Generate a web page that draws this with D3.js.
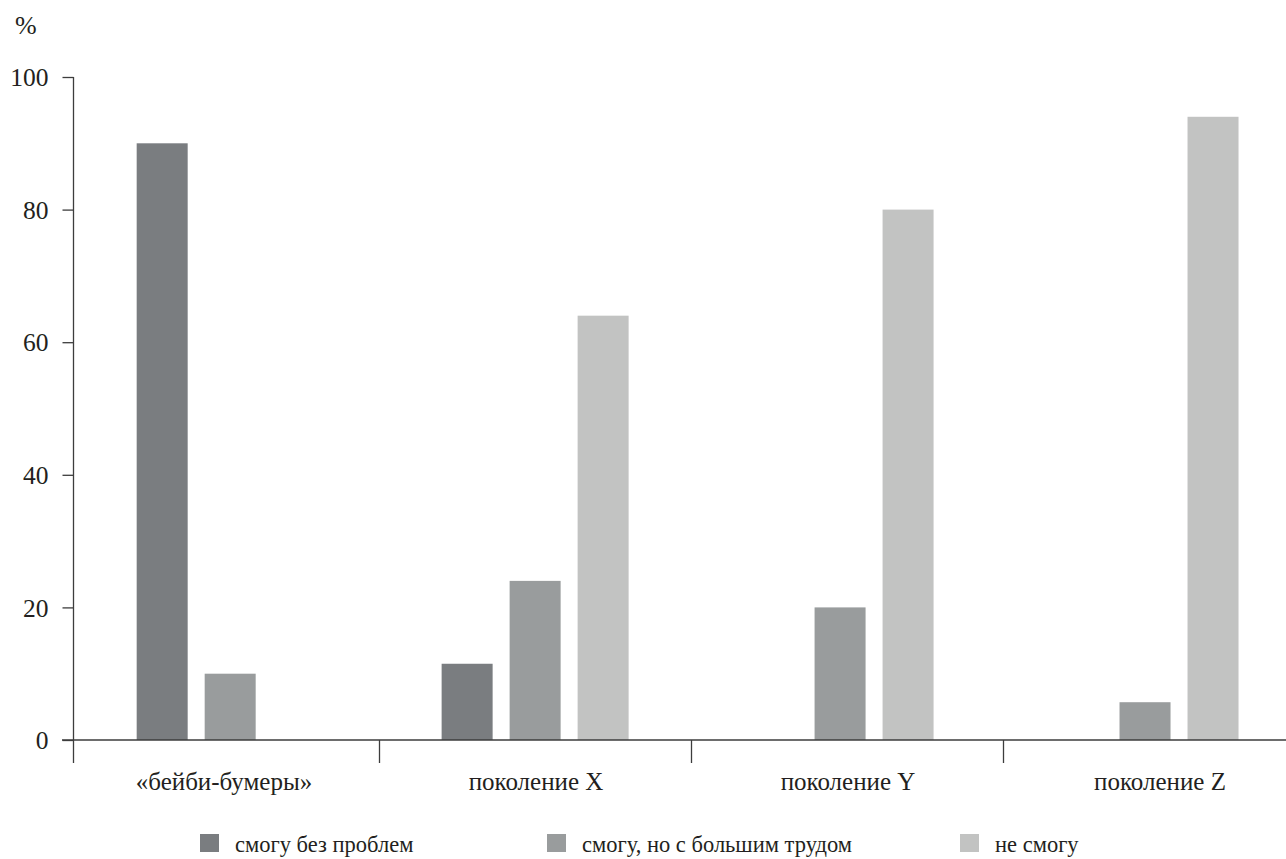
<!DOCTYPE html>
<html><head><meta charset="utf-8">
<script src="https://cdn.jsdelivr.net/npm/d3@7"></script>
<style>
html,body{margin:0;padding:0;background:#fff;}
</style></head>
<body><svg id="chart" width="1286" height="859"></svg>
<script>
const categories = ["«бейби-бумеры»", "поколение X", "поколение Y", "поколение Z"];
const seriesNames = ["смогу без проблем", "смогу, но с большим трудом", "не смогу"];
const seriesColors = ["#7a7d80", "#999c9d", "#c2c3c2"];
const valuesNoProblem = [90, 11.5, 0, 0];
const valuesWithDifficulty = [10, 24, 20, 5.7];
const valuesCannot = [0, 64, 80, 94];
const yTicks = [0, 20, 40, 60, 80, 100];
const yUnit = "%";

const FONT = "Liberation Serif";
const TXT = "#231f20";
const seriesValues = [valuesNoProblem, valuesWithDifficulty, valuesCannot];
const svg = d3.select("#chart");

const y = d3.scaleLinear().domain([0, 100]).range([740, 77]);
const xAxisScale = d3.scaleBand().domain(categories).range([68, 1316]);
const xGroup = d3.scaleBand().domain(categories).range([77.7, 1297.5]);
const gc = xGroup.bandwidth() / 2;
const xInner = d3.scaleBand().domain(seriesNames).range([gc - 110.5, gc + 110.5]).padding(0.25);

const axisColor = "#3d3d3d";

// bars
const data = [];
categories.forEach((c, i) => seriesNames.forEach((s, j) => {
  if (seriesValues[j][i] > 0) data.push({c, s, j, v: seriesValues[j][i]});
}));
svg.append("g").selectAll("rect").data(data).join("rect")
  .attr("x", d => xGroup(d.c) + xInner(d.s))
  .attr("width", xInner.bandwidth())
  .attr("y", d => y(d.v))
  .attr("height", d => y(0) - y(d.v))
  .attr("fill", d => seriesColors[d.j]);

// y axis
const yAxis = svg.append("g").attr("transform", "translate(73.5,0)")
  .call(d3.axisLeft(y).tickValues(yTicks).tickSize(11).tickPadding(14).tickSizeOuter(0))
  .attr("font-family", FONT).attr("font-size", 25.5);
yAxis.select(".domain").remove();
yAxis.selectAll(".tick line").attr("stroke", axisColor).attr("stroke-width", 1.3);
yAxis.selectAll(".tick text").attr("fill", TXT).attr("dy", "0.34em");
svg.append("line").attr("x1", 73.5).attr("x2", 73.5).attr("y1", y(100)).attr("y2", 763)
  .attr("stroke", axisColor).attr("stroke-width", 1.3);

// x axis
svg.append("line").attr("x1", 62).attr("x2", 1286).attr("y1", y(0)).attr("y2", y(0))
  .attr("stroke", axisColor).attr("stroke-width", 1.5);
svg.append("g").selectAll("line").data(categories.slice(1)).join("line")
  .attr("x1", d => Math.round(xAxisScale(d)) - 0.5).attr("x2", d => Math.round(xAxisScale(d)) - 0.5)
  .attr("y1", y(0)).attr("y2", 763)
  .attr("stroke", axisColor).attr("stroke-width", 1.3);
svg.append("g").selectAll("text").data(categories).join("text")
  .attr("x", d => xAxisScale(d) + xAxisScale.bandwidth() / 2)
  .attr("y", 790)
  .attr("text-anchor", "middle")
  .attr("font-family", FONT).attr("font-size", 25).attr("fill", TXT)
  .text(d => d);

// unit label
svg.append("text").attr("x", 15).attr("y", 34).attr("font-family", FONT).attr("font-size", 26).attr("fill", TXT).text(yUnit);

// legend
const legendX = [200, 547, 960];
const lg = svg.append("g").selectAll("g").data(seriesNames).join("g")
  .attr("transform", (d, i) => `translate(${legendX[i]},834)`);
lg.append("rect").attr("width", 19).attr("height", 18).attr("fill", (d, i) => seriesColors[i]);
lg.append("text").attr("x", 35).attr("y", 18).attr("font-family", FONT).attr("font-size", 22.5).attr("fill", TXT).text(d => d);
</script></body></html>
